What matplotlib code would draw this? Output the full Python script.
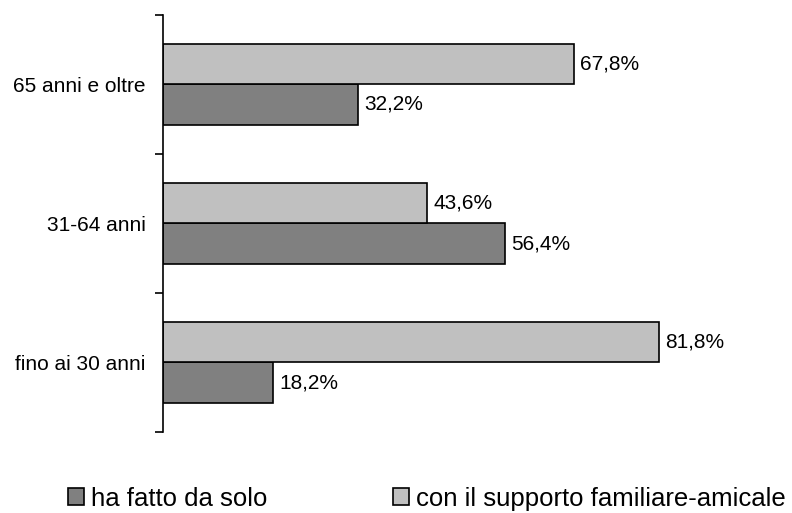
import matplotlib
matplotlib.use("Agg")
import matplotlib.pyplot as plt
from matplotlib.patches import Patch
import numpy as np

plt.rcParams['font.family'] = ['Liberation Sans', 'DejaVu Sans']

categories = ["fino ai 30 anni", "31-64 anni", "65 anni e oltre"]
solo = [18.2, 56.4, 32.2]
supporto = [81.8, 43.6, 67.8]
series_names = ["ha fatto da solo", "con il supporto familiare-amicale"]
color_solo = "#808080"
color_supp = "#c0c0c0"

fig = plt.figure(figsize=(7.92, 5.13), dpi=100)
ax = fig.add_axes([0.2058, 0.1579, 0.765, 0.8129])

y = np.arange(len(categories))
h = 0.288
b1 = ax.barh(y - h / 2, solo, height=h, color=color_solo, edgecolor="black", linewidth=1.2)
b2 = ax.barh(y + h / 2, supporto, height=h, color=color_supp, edgecolor="black", linewidth=1.2)

def fmt(v):
    return f"{v:.1f}%".replace(".", ",")

for bars, vals in ((b1, solo), (b2, supporto)):
    for rect, v in zip(bars, vals):
        ax.annotate(fmt(v), (v, rect.get_y() + rect.get_height() / 2),
                    xytext=(4.5, 0), textcoords="offset points",
                    va="center", ha="left", fontsize=15)

ax.set_xlim(0, 100)
ax.set_ylim(-0.5, 2.5)
ax.set_yticks(y)
ax.set_yticklabels(categories, fontsize=15)
ax.set_yticks(np.arange(-0.5, 2.6, 1.0), minor=True)
ax.tick_params(axis="y", which="major", length=0, pad=12.5)
ax.tick_params(axis="y", which="minor", length=6, width=1.2, direction="out")
ax.set_xticks([])
for s in ("top", "right", "bottom"):
    ax.spines[s].set_visible(False)
ax.spines["left"].set_linewidth(1.2)

handles = [Patch(facecolor=color_solo, edgecolor="black", linewidth=1.2),
           Patch(facecolor=color_supp, edgecolor="black", linewidth=1.2)]
fig.legend(handles, series_names, loc="center left", bbox_to_anchor=(0.086, 0.028),
           ncol=2, frameon=False, fontsize=18.5, handlelength=0.62, handleheight=0.62,
           handletextpad=0.27, columnspacing=4.9, borderpad=0, borderaxespad=0)

fig.savefig("out.png", dpi=100, facecolor="white")
